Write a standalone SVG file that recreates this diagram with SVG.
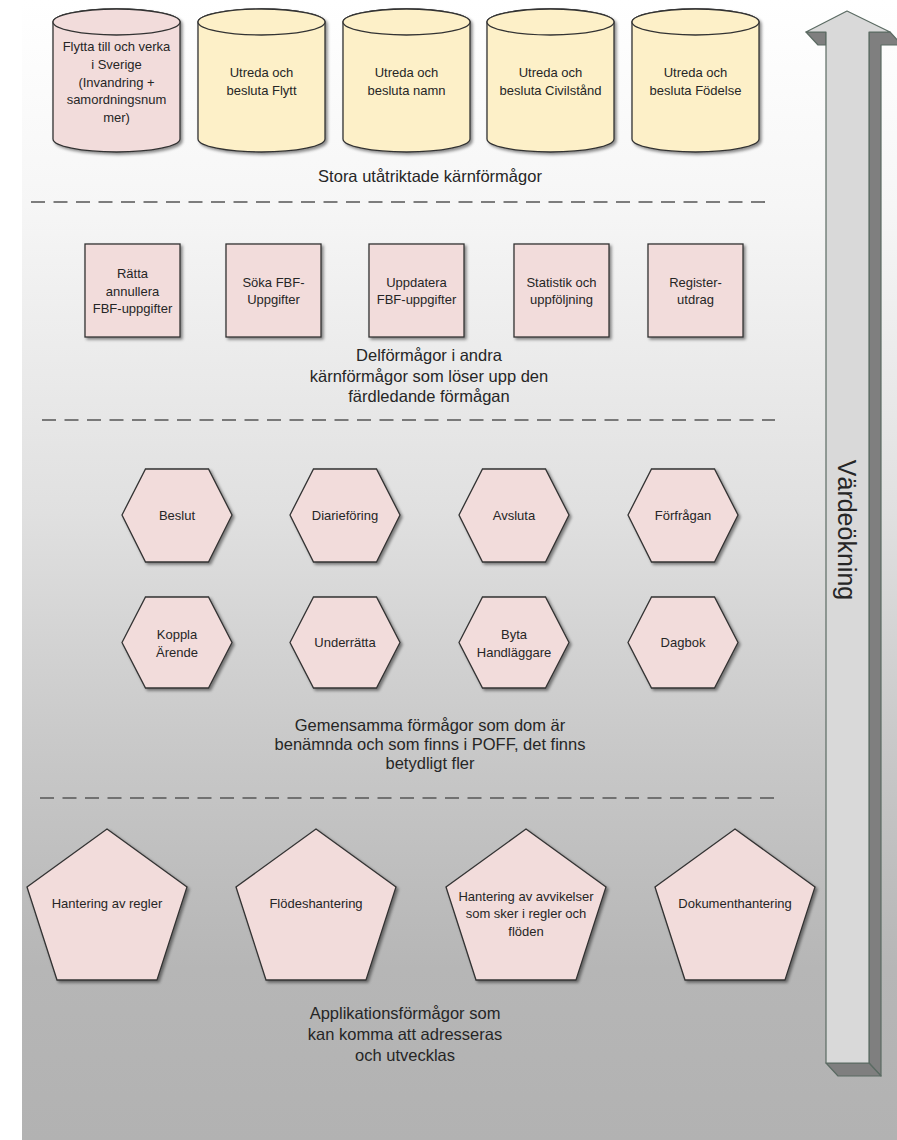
<svg xmlns="http://www.w3.org/2000/svg" width="897" height="1140" viewBox="0 0 897 1140">
<defs>
<linearGradient id="bg" x1="0" y1="0" x2="0" y2="1">
<stop offset="0" stop-color="#ffffff"/>
<stop offset="0.18" stop-color="#f6f6f6"/>
<stop offset="0.45" stop-color="#e0e0e0"/>
<stop offset="0.65" stop-color="#c9c9c9"/>
<stop offset="0.85" stop-color="#b6b6b6"/>
<stop offset="1" stop-color="#b2b2b2"/>
</linearGradient>
<filter id="sh" x="-10%" y="-10%" width="130%" height="130%">
<feDropShadow dx="2" dy="2" stdDeviation="1.6" flood-color="#000" flood-opacity="0.45"/>
</filter>
<style>
.t{font-family:"Liberation Sans",Arial,sans-serif;font-size:13px;fill:#262626;text-anchor:middle}
.lbl{font-family:"Liberation Sans",Arial,sans-serif;font-size:16.5px;fill:#262626;text-anchor:middle}
.pink{fill:#f2dcdb;stroke:#333;stroke-width:1.3}
.yel{fill:#fdf0c8;stroke:#333;stroke-width:1.3}
.sh{filter:url(#sh)}
.dash{stroke:#555;stroke-width:1.6;stroke-dasharray:14 8.5;fill:none}
.afront{fill:#d9d9d9;stroke:#5b6b63;stroke-width:1.2;stroke-linejoin:round}
.adark{fill:#7f7f7f;stroke:#5b6b63;stroke-width:1.2;stroke-linejoin:round}
</style>
</defs>
<rect x="0" y="0" width="897" height="1140" fill="#ffffff"/>
<rect x="22" y="0" width="875" height="1140" fill="url(#bg)"/>

<g id="separators">
<line class="dash" x1="31" y1="202" x2="765" y2="202"/>
<line class="dash" x1="42" y1="420" x2="775" y2="420"/>
<line class="dash" x1="40" y1="798" x2="775" y2="798"/>
</g>

<g id="value-arrow">
<polygon class="adark" points="806,32 826,32 826,45 818,45"/>
<polygon class="adark" points="869,32 890,32 902,45 881,45 881,1076 869,1063"/>
<polygon class="adark" points="826,1063 869,1063 881,1076 838,1076"/>
<polygon class="afront" points="847,11 890,32 869,32 869,1063 826,1063 826,32 806,32"/>
<text transform="translate(847,530) rotate(90)" dominant-baseline="central" style="font-family:'Liberation Sans',Arial,sans-serif;font-size:25px;fill:#262626;text-anchor:middle">Värdeökning</text>
</g>

<!-- Cylinders -->
<g id="cyl-flytta">
<path class="pink sh" d="M53,22 L53,139 A63.5,13 0 0 0 180,139 L180,22 A63.5,13 0 0 0 53,22 Z"/>
<ellipse class="pink" cx="116.5" cy="22" rx="63.5" ry="13"/>
<text class="t"><tspan x="116.5" y="50.5">Flytta till och verka</tspan><tspan x="116.5" y="68.5">i Sverige</tspan><tspan x="116.5" y="86.5">(Invandring +</tspan><tspan x="116.5" y="104">samordningsnum</tspan><tspan x="116.5" y="122">mer)</tspan></text>
</g>
<g id="cyl-flytt">
<path class="yel sh" d="M198,22 L198,139 A63.5,13 0 0 0 325,139 L325,22 A63.5,13 0 0 0 198,22 Z"/>
<ellipse class="yel" cx="261.5" cy="22" rx="63.5" ry="13"/>
<text class="t"><tspan x="261.5" y="76.5">Utreda och</tspan><tspan x="261.5" y="94.5">besluta Flytt</tspan></text>
</g>
<g id="cyl-namn">
<path class="yel sh" d="M343,22 L343,139 A63.5,13 0 0 0 470,139 L470,22 A63.5,13 0 0 0 343,22 Z"/>
<ellipse class="yel" cx="406.5" cy="22" rx="63.5" ry="13"/>
<text class="t"><tspan x="406.5" y="76.5">Utreda och</tspan><tspan x="406.5" y="94.5">besluta namn</tspan></text>
</g>
<g id="cyl-civilstand">
<path class="yel sh" d="M487,22 L487,139 A63.5,13 0 0 0 614,139 L614,22 A63.5,13 0 0 0 487,22 Z"/>
<ellipse class="yel" cx="550.5" cy="22" rx="63.5" ry="13"/>
<text class="t"><tspan x="550.5" y="76.5">Utreda och</tspan><tspan x="550.5" y="94.5">besluta Civilstånd</tspan></text>
</g>
<g id="cyl-fodelse">
<path class="yel sh" d="M632,22 L632,139 A63.5,13 0 0 0 759,139 L759,22 A63.5,13 0 0 0 632,22 Z"/>
<ellipse class="yel" cx="695.5" cy="22" rx="63.5" ry="13"/>
<text class="t"><tspan x="695.5" y="76.5">Utreda och</tspan><tspan x="695.5" y="94.5">besluta Födelse</tspan></text>
</g>
<text id="label-stora" class="lbl" x="430" y="182">Stora utåtriktade kärnförmågor</text>

<!-- Rectangles -->
<g id="rect-ratta">
<rect class="pink sh" x="85" y="244" width="95" height="93"/>
<text class="t"><tspan x="132.5" y="277.5">Rätta</tspan><tspan x="132.5" y="295.5">annullera</tspan><tspan x="132.5" y="313">FBF-uppgifter</tspan></text>
</g>
<g id="rect-soka">
<rect class="pink sh" x="226" y="244" width="95" height="93"/>
<text class="t"><tspan x="273.5" y="286.5">Söka FBF-</tspan><tspan x="273.5" y="304">Uppgifter</tspan></text>
</g>
<g id="rect-uppdatera">
<rect class="pink sh" x="369" y="244" width="95" height="93"/>
<text class="t"><tspan x="416.5" y="286.5">Uppdatera</tspan><tspan x="416.5" y="304">FBF-uppgifter</tspan></text>
</g>
<g id="rect-statistik">
<rect class="pink sh" x="514" y="244" width="95" height="93"/>
<text class="t"><tspan x="561.5" y="286.5">Statistik och</tspan><tspan x="561.5" y="304">uppföljning</tspan></text>
</g>
<g id="rect-register">
<rect class="pink sh" x="648" y="244" width="95" height="93"/>
<text class="t"><tspan x="695.5" y="286.5">Register-</tspan><tspan x="695.5" y="304">utdrag</tspan></text>
</g>
<text id="label-delformagor" class="lbl"><tspan x="429" y="361">Delförmågor i andra</tspan><tspan x="429" y="382">kärnförmågor som löser upp den</tspan><tspan x="429" y="402">färdledande förmågan</tspan></text>

<!-- Hexagons -->
<g id="hex-beslut">
<polygon class="pink sh" points="122,515 145.5,469 208.5,469 232,515 208.5,562 145.5,562"/>
<text class="t" x="177" y="519.5">Beslut</text>
</g>
<g id="hex-diarieforing">
<polygon class="pink sh" points="290,515 313.5,469 376.5,469 400,515 376.5,562 313.5,562"/>
<text class="t" x="345" y="519.5">Diarieföring</text>
</g>
<g id="hex-avsluta">
<polygon class="pink sh" points="459,515 482.5,469 545.5,469 569,515 545.5,562 482.5,562"/>
<text class="t" x="514" y="519.5">Avsluta</text>
</g>
<g id="hex-forfragan">
<polygon class="pink sh" points="628,515 651.5,469 714.5,469 738,515 714.5,562 651.5,562"/>
<text class="t" x="683" y="519.5">Förfrågan</text>
</g>
<g id="hex-koppla">
<polygon class="pink sh" points="122,642.5 145.5,597 208.5,597 232,642.5 208.5,688 145.5,688"/>
<text class="t"><tspan x="177" y="638.5">Koppla</tspan><tspan x="177" y="656.5">Ärende</tspan></text>
</g>
<g id="hex-underratta">
<polygon class="pink sh" points="290,642.5 313.5,597 376.5,597 400,642.5 376.5,688 313.5,688"/>
<text class="t" x="345" y="647">Underrätta</text>
</g>
<g id="hex-byta">
<polygon class="pink sh" points="459,642.5 482.5,597 545.5,597 569,642.5 545.5,688 482.5,688"/>
<text class="t"><tspan x="514" y="638.5">Byta</tspan><tspan x="514" y="656.5">Handläggare</tspan></text>
</g>
<g id="hex-dagbok">
<polygon class="pink sh" points="628,642.5 651.5,597 714.5,597 738,642.5 714.5,688 651.5,688"/>
<text class="t" x="683" y="647">Dagbok</text>
</g>
<text id="label-gemensamma" class="lbl"><tspan x="430" y="731">Gemensamma förmågor som dom är</tspan><tspan x="430" y="750">benämnda och som finns i POFF, det finns</tspan><tspan x="430" y="769">betydligt fler</tspan></text>

<!-- Pentagons -->
<g id="pent-regler">
<polygon class="pink sh" points="107,829 187,887 157,980 57,980 27,887"/>
<text class="t" x="107" y="907.5">Hantering av regler</text>
</g>
<g id="pent-flodes">
<polygon class="pink sh" points="316,829 396,887 366,980 266,980 236,887"/>
<text class="t" x="316" y="907.5">Flödeshantering</text>
</g>
<g id="pent-avvikelser">
<polygon class="pink sh" points="526,829 606,887 576,980 476,980 446,887"/>
<text class="t"><tspan x="526" y="900.5">Hantering av avvikelser</tspan><tspan x="526" y="918">som sker i regler och</tspan><tspan x="526" y="935.5">flöden</tspan></text>
</g>
<g id="pent-dokument">
<polygon class="pink sh" points="735,829 815,887 785,980 685,980 655,887"/>
<text class="t" x="735" y="907.5">Dokumenthantering</text>
</g>
<text id="label-applikation" class="lbl"><tspan x="405" y="1019">Applikationsförmågor som</tspan><tspan x="405" y="1040">kan komma att adresseras</tspan><tspan x="405" y="1061">och utvecklas</tspan></text>

<g id="connectors"/>
</svg>
